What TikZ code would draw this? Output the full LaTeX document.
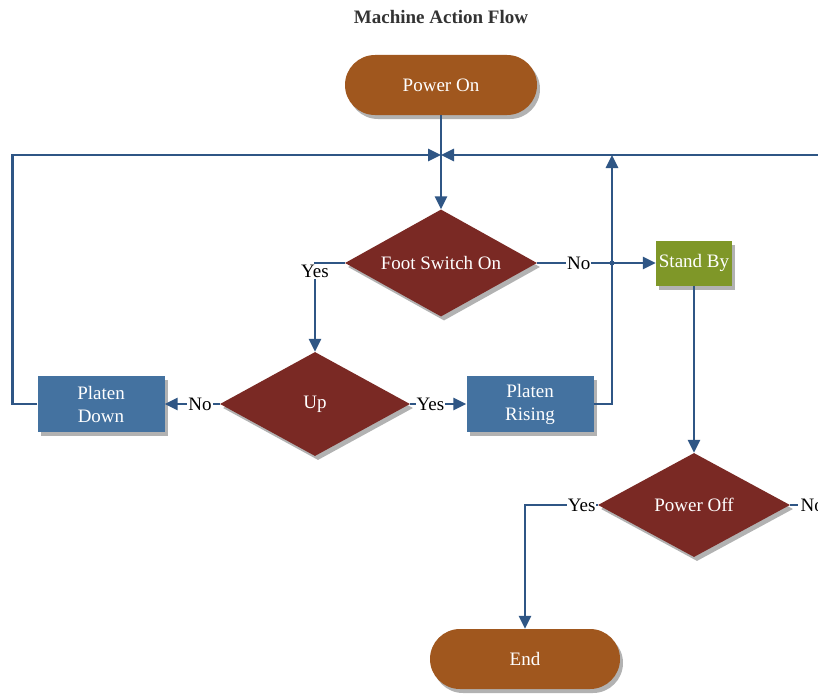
\documentclass[tikz,border=0pt]{standalone}
\usepackage{fontspec}
\setmainfont{Liberation Serif}
\usetikzlibrary{shapes.geometric,arrows.meta,shadows}
\definecolor{termbrown}{RGB}{160,87,30}
\definecolor{decred}{RGB}{122,41,36}
\definecolor{stepblue}{RGB}{68,114,160}
\definecolor{waitgreen}{RGB}{127,151,40}
\definecolor{flowline}{RGB}{47,86,133}
\newcommand{\flowfont}{\fontsize{19}{23}\selectfont}
\begin{document}
\begin{tikzpicture}[x=1pt,y=-1pt,>={Triangle[length=13pt,width=12pt]},
  shade/.style={drop shadow={shadow xshift=3pt,shadow yshift=-4pt,opacity=0.3,fill=black}},
  term/.style={fill=termbrown,rounded corners=30pt,minimum width=192pt,minimum height=60pt,text=white,font=\flowfont,shade},
  decision/.style={diamond,shape aspect=1.8,fill=decred,inner sep=1pt,minimum width=192pt,minimum height=107pt,text=white,font=\flowfont,shade},
  stepbox/.style={fill=stepblue,minimum width=127pt,minimum height=56pt,text=white,font=\flowfont,align=center,shade},
  waitbox/.style={fill=waitgreen,minimum width=76pt,minimum height=45pt,inner sep=1pt,text=white,font=\flowfont,shade},
  flow/.style={draw=flowline,line width=2.8pt},
  tag/.style={fill=white,inner sep=1pt,font=\flowfont}]
\clip (0,0) rectangle (818,693);
\fill[white] (0,0) rectangle (818,693);
\node (title) [font=\flowfont\bfseries,text=black!80] at (441,17) {Machine Action Flow};
\node (pon) [term] at (441,85) {Power On};
\node (fs) [decision] at (441,263) {Foot Switch On};
\node (sby) [waitbox] at (694,263) {Stand By};
\node (up) [decision,minimum width=190pt,minimum height=104pt] at (315,404) {Up};
\node (pdown) [stepbox] at (101,404) {Platen\\Down};
\node (prise) [stepbox] at (530,404) {Platen\\Rising};
\node (poff) [decision,minimum height=104pt] at (694,505) {Power Off};
\node (pend) [term,minimum width=190pt] at (525,659) {End};
\coordinate (pin) at (441,155);
\coordinate (riseup) at (612,155);
\coordinate (offret) at (830,155);
\coordinate (cross) at (612,263);
% main line
\draw[flow,->] (pon.south) -- (fs.north);
\draw[flow,->] (offret) -- (pin);
\draw[flow,->] (pdown.west) -- ++(-25,0) |- (pin);
\draw[flow,->] (prise.east) -| (riseup);
\draw[flow,->] (fs.east) -- node[tag,pos=0.35] {No} (sby.west);
\fill[flowline] (cross) circle (2.5pt);
\draw[flow,->] (fs.west) -| node[tag,anchor=north,pos=0.5] {Yes} (up.north);
\draw[flow,->] (up.west) -- node[tag,pos=0.36] {No} (pdown.east);
\draw[flow,->] (up.east) -- node[tag,pos=0.36] {Yes} (prise.west);
\draw[flow,->] (sby.south) -- (poff.north);
\draw[flow,->] (poff.west) -| node[tag,at start,anchor=east] {Yes} (pend.north);
\draw[flow] (poff.east) -- ++(8,0) node[tag,anchor=west] {No};
\end{tikzpicture}
\end{document}
